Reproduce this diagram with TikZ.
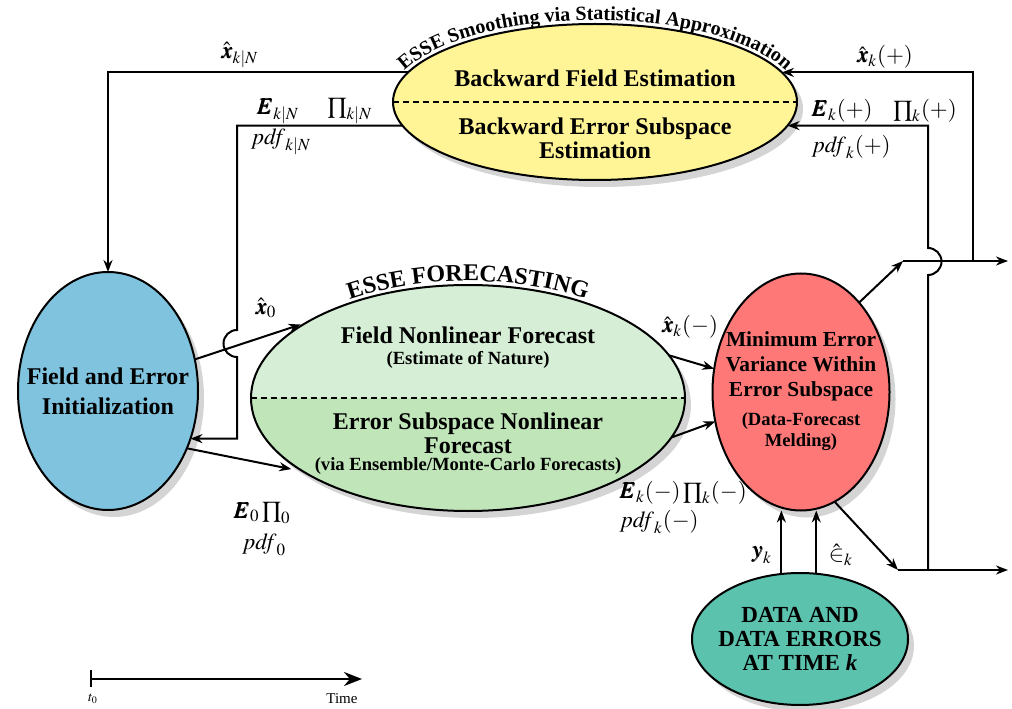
\documentclass[tikz,border=0pt]{standalone}
\usepackage{amsmath}
\usepackage{mathptmx}
\usepackage{bm}
\usepackage[no-math]{fontspec}
\setmainfont{Liberation Serif}
\usetikzlibrary{shapes.geometric,arrows.meta,shadows,decorations.text,calc}
\definecolor{initblue}{RGB}{128,195,223}
\definecolor{fcstlight}{RGB}{214,238,214}
\definecolor{fcstdark}{RGB}{192,229,185}
\definecolor{smoothyellow}{RGB}{255,245,150}
\definecolor{meldred}{RGB}{255,120,120}
\definecolor{datateal}{RGB}{91,194,174}
\tikzset{
  bubble/.style={ellipse, draw, line width=1pt, inner sep=0pt, outer sep=0pt,
    drop shadow={shadow xshift=3pt, shadow yshift=-3.5pt, fill=black!17, opacity=1}},
  halftop/.style={path picture={\fill[#1] (path picture bounding box.north west) rectangle (path picture bounding box.east);}},
  splitline/.style={line width=0.9pt, dash pattern=on 3pt off 2pt},
  flow/.style={line width=1pt, -{Stealth[length=6pt,width=4.5pt]}},
  lbl/.style={font=\fontsize{11.5}{13}\selectfont},
  bigtxt/.style={font=\bfseries\fontsize{12}{#1}\selectfont, align=center},
  bigtxt/.default=12,
  subtxt/.style={font=\bfseries\fontsize{9.3}{10.5}\selectfont, align=center}
}

\begin{document}
\begin{tikzpicture}[x=0.5pt, y=0.5pt]
\useasboundingbox (0,0) rectangle (1012,708);

\node[bubble, fill=initblue, minimum width=90pt, minimum height=119pt] (init) at (108,317) {};
\node[bigtxt=15] (inittxt) at (init.center) {Field and Error\\Initialization};

\node[bubble, fill=fcstdark, halftop=fcstlight, minimum width=217pt, minimum height=113pt] (fcst) at (468,310) {};
\draw[splitline] (fcst.west) -- (fcst.east);
\node[bigtxt] (fcsttop) at (468,373) {Field Nonlinear Forecast};
\node[subtxt] (fcsttopsub) at (468,348) {(Estimate of Nature)};
\node[bigtxt] (fcstbot) at (468,275) {Error Subspace Nonlinear\\Forecast};
\node[subtxt] (fcstbotsub) at (468,242) {(via Ensemble/Monte-Carlo Forecasts)};
\path[decorate, decoration={text along path, text align=center,
  text={|\bfseries\fontsize{12}{12}\selectfont|ESSE FORECASTING}}]
  ($(fcst.center)+(170:221 and 117)$) arc[start angle=170, end angle=10, x radius=221, y radius=117];

\node[bubble, fill=smoothyellow, minimum width=202pt, minimum height=78pt] (smooth) at (595,606) {};
\draw[splitline] (smooth.west) -- (smooth.east);
\node[bigtxt] (smoothtop) at (595,630) {Backward Field Estimation};
\node[bigtxt] (smoothbot) at (595,570) {Backward Error Subspace\\Estimation};
\path[decorate, decoration={text along path, text align=center,
  text={|\bfseries\fontsize{10}{10}\selectfont|ESSE Smoothing via Statistical Approximation}}]
  ($(smooth.center)+(178:206 and 82)$) arc[start angle=178, end angle=2, x radius=206, y radius=82];

\node[bubble, fill=meldred, minimum width=88.5pt, minimum height=118.5pt] (melding) at (801,316) {};
\node[bigtxt=12.5, font=\bfseries\fontsize{10.7}{12.5}\selectfont] (meldtxt) at (801,342) {Minimum Error\\Variance Within\\Error Subspace};
\node[subtxt] (meldsub) at (801,276) {(Data-Forecast\\Melding)};

\node[bubble, fill=datateal, minimum width=108pt, minimum height=66pt] (data) at (800,69) {};
\node[bigtxt, font=\bfseries\fontsize{11.5}{11.8}\selectfont] (datatxt) at (data.center) {DATA AND\\DATA ERRORS\\AT TIME \textit{k}};

\coordinate (hopL) at (237,378);
\coordinate (upJ) at (903,447);
\coordinate (upOut) at (1008,447);
\coordinate (lowJ) at (898,138);
\coordinate (lowOut) at (1008,138);
\coordinate (upX) at (973,447);
\coordinate (lowE) at (928,138);
\coordinate (hopR) at (928,433);

\draw[flow, shorten >=3pt] (init.20) -- (fcst.155);
\draw[flow, shorten >=6pt] (init.-36) -- (fcst.204);
\draw[flow] (smooth.171) -| (init.north);
\draw[flow] (smooth.187.5) -| (hopL) arc[start angle=90, end angle=270, radius=13.5] |- (init.-30);
\draw[flow] (fcst.12.6) -- (melding.165);
\draw[flow] (fcst.-11.6) -- (melding.199);
\draw[flow] (melding.57) -- (upJ);
\draw[flow] (upJ) -- (upOut);
\draw[flow] (melding.-73.5) -- (lowJ);
\draw[flow] (lowJ) -- (lowOut);
\draw[flow] (upX) |- (smooth.9);
\draw[flow] (lowE) -- (hopR) arc[start angle=-90, end angle=90, radius=13.5] |- (smooth.-7.5);
\draw[flow] (data.106) -- (data.106 |- melding.south);
\draw[flow] (data.76) -- (data.76 |- melding.south);

\node[lbl] (xkN) at (240,653) {$\hat{\bm x}_{k|N}$};
\node[lbl] (EkN) at (278,597) {$\bm E_{k|N}$};
\node[lbl] (PkN) at (350,597) {$\prod_{k|N}$};
\node[lbl] (pdfkN) at (282,566) {$\mathit{pdf}_{k|N}$};
\node[lbl] (xz) at (266,400) {$\hat{\bm x}_0$};
\node[lbl] (Ez) at (262,195) {$\bm E_0\prod_0$};
\node[lbl] (pdfz) at (265,163) {$\mathit{pdf}_0$};
\node[lbl] (xkm) at (690,381) {$\hat{\bm x}_k(-)$};
\node[lbl] (Ekm) at (683,215) {$\bm E_k(-)\prod_k(-)$};
\node[lbl] (pdfkm) at (660,186) {$\mathit{pdf}_k(-)$};
\node[lbl] (yk) at (762,153) {$\bm y_k$};
\node[lbl] (epsk) at (841,153) {$\hat{\mathord{\in}}_k$};
\node[lbl] (xkp) at (885,651) {$\hat{\bm x}_k(+)$};
\node[lbl] (Ekp) at (842,597) {$\bm E_k(+)$};
\node[lbl] (Pkp) at (925,597) {$\prod_k(+)$};
\node[lbl] (pdfkp) at (852,561) {$\mathit{pdf}_k(+)$};

\coordinate (tzero) at (91,29);
\coordinate (tend) at (362,29);
\draw[line width=1.3pt, -{Stealth[length=9pt,width=7pt]}] (tzero) -- (tend);
\draw[line width=0.8pt] (91,38) -- (91,21);
\node[font=\fontsize{7}{8}\selectfont] (tzlbl) at (93,9) {$t_0$};
\node[font=\fontsize{7.5}{8}\selectfont] (timelbl) at (342,9) {Time};
\end{tikzpicture}
\end{document}
